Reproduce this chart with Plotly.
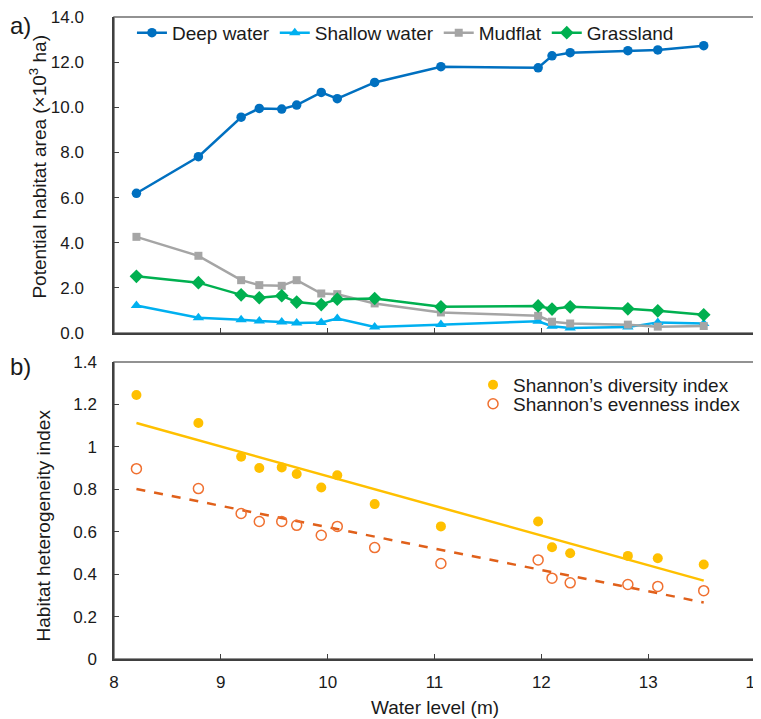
import numpy as np
import plotly.graph_objects as go

water_level = [8.21, 8.79, 9.19, 9.36, 9.57, 9.71, 9.94, 10.09, 10.44, 11.06, 11.97, 12.10, 12.27, 12.81, 13.09, 13.52]
deep_water = [6.19, 7.81, 9.56, 9.95, 9.92, 10.10, 10.66, 10.38, 11.10, 11.80, 11.75, 12.28, 12.42, 12.51, 12.54, 12.73]
shallow_water = [1.22, 0.68, 0.59, 0.53, 0.49, 0.44, 0.47, 0.64, 0.27, 0.38, 0.52, 0.30, 0.22, 0.26, 0.47, 0.42]
mudflat = [4.26, 3.42, 2.34, 2.12, 2.09, 2.34, 1.75, 1.72, 1.31, 0.91, 0.76, 0.50, 0.42, 0.37, 0.28, 0.31]
grassland = [2.51, 2.23, 1.69, 1.56, 1.65, 1.37, 1.26, 1.50, 1.53, 1.16, 1.20, 1.06, 1.16, 1.07, 0.98, 0.81]

diversity = [1.244, 1.112, 0.953, 0.900, 0.903, 0.872, 0.808, 0.866, 0.730, 0.625, 0.648, 0.527, 0.498, 0.486, 0.475, 0.445]
evenness = [0.897, 0.803, 0.686, 0.648, 0.648, 0.630, 0.583, 0.625, 0.525, 0.450, 0.467, 0.381, 0.359, 0.351, 0.342, 0.322]

top_ticks = [0, 2, 4, 6, 8, 10, 12, 14]
bottom_ticks = [0, 0.2, 0.4, 0.6, 0.8, 1.0, 1.2, 1.4]
x_ticks = [8, 9, 10, 11, 12, 13, 14]

FONT = "Liberation Sans, Arial, sans-serif"
AXC = "#404040"
TXT = "#1a1a1a"

fig = go.Figure()

series = [
    ("Deep water", deep_water, "#0070C0", "circle", 9.5),
    ("Shallow water", shallow_water, "#00B0F0", "triangle-up", 10),
    ("Mudflat", mudflat, "#A5A5A5", "square", 8),
    ("Grassland", grassland, "#00B050", "diamond", 10.5),
]
for name, vals, col, sym, sz in series:
    fig.add_trace(go.Scatter(x=water_level, y=vals, name=name, mode="lines+markers",
                             line=dict(color=col, width=2.5),
                             marker=dict(symbol=sym, size=sz, color=col),
                             xaxis="x", yaxis="y", legend="legend"))

wl = np.array(water_level)
xfit = np.array([wl.min(), wl.max()])
p1 = np.polyfit(wl, diversity, 1)
p2 = np.polyfit(wl, evenness, 1)

fig.add_trace(go.Scatter(x=xfit, y=np.polyval(p1, xfit), mode="lines",
                         line=dict(color="#FFC000", width=2.5), showlegend=False,
                         xaxis="x2", yaxis="y2"))
fig.add_trace(go.Scatter(x=xfit, y=np.polyval(p2, xfit), mode="lines",
                         line=dict(color="#E0601A", width=2.5, dash="dash"), showlegend=False,
                         xaxis="x2", yaxis="y2"))
fig.add_trace(go.Scatter(x=water_level, y=diversity, mode="markers", name="Shannon\u2019s diversity index",
                         marker=dict(symbol="circle", size=10, color="#FFC000"),
                         xaxis="x2", yaxis="y2", legend="legend2"))
fig.add_trace(go.Scatter(x=water_level, y=evenness, mode="markers", name="Shannon\u2019s evenness index",
                         marker=dict(symbol="circle-open", size=10, color="#F07030", line=dict(width=1.5)),
                         xaxis="x2", yaxis="y2", legend="legend3"))


def axis_common(standoff):
    return dict(showline=True, linecolor=AXC, linewidth=1.5, mirror=False, automargin=False,
                ticks="inside", ticklen=5, tickcolor=AXC, showgrid=False, zeroline=False,
                ticklabelstandoff=standoff, ticklabeloverflow="allow",
                tickfont=dict(size=17, color=TXT, family=FONT))


leg_common = dict(xref="paper", yref="paper", xanchor="left", yanchor="top",
                  font=dict(size=19, family=FONT, color=TXT), bgcolor="rgba(0,0,0,0)")

fig.update_layout(
    width=753, height=711,
    margin=dict(l=106, r=6, t=7, b=60),
    plot_bgcolor="white", paper_bgcolor="white",
    font=dict(family=FONT, color=TXT),
    xaxis=dict(domain=[0, 1], anchor="y", range=[8, 14], tickvals=x_ticks, showticklabels=False,
               **axis_common(0)),
    yaxis=dict(domain=[0.5078, 1], anchor="x", range=[0, 14], tickvals=top_ticks, tickformat=".1f",
               **axis_common(25)),
    xaxis2=dict(domain=[0, 1], anchor="y2", range=[8, 14], tickvals=x_ticks, **axis_common(7)),
    yaxis2=dict(domain=[0, 0.4627], anchor="x2", range=[0, 1.4], tickvals=bottom_ticks,
                **axis_common(12)),
    legend=dict(orientation="h", x=0.028, y=1.005, tracegroupgap=0, **leg_common),
    legend2=dict(orientation="v", x=0.5601, y=0.4565, **leg_common),
    legend3=dict(orientation="v", x=0.5601, y=0.4270, **leg_common),
    showlegend=True,
)

# frame boxes (gray)
for dom_y in ([0.5078, 1], [0, 0.4627]):
    fig.add_shape(type="rect", xref="paper", yref="paper", x0=0, x1=1, y0=dom_y[0], y1=dom_y[1],
                  line=dict(color="#6f6f6f", width=1.5), fillcolor="rgba(0,0,0,0)", layer="below")

fig.add_annotation(text="a)", xref="paper", yref="paper", x=-0.1654, y=0.986, xanchor="left", yanchor="middle",
                   showarrow=False, font=dict(size=24, family=FONT, color=TXT))
fig.add_annotation(text="b)", xref="paper", yref="paper", x=-0.1654, y=0.455, xanchor="left", yanchor="middle",
                   showarrow=False, font=dict(size=24, family=FONT, color=TXT))

# axis titles
fig.add_annotation(text="Potential habitat area (\u00d710<sup>3</sup> ha)", xref="paper", yref="paper",
                   x=-0.1186, y=0.767, textangle=-90, xanchor="center", yanchor="middle",
                   showarrow=False, font=dict(size=19, family=FONT, color=TXT))
fig.add_annotation(text="Habitat heterogeneity index", xref="paper", yref="paper",
                   x=-0.1108, y=0.208, textangle=-90, xanchor="center", yanchor="middle",
                   showarrow=False, font=dict(size=19, family=FONT, color=TXT))
fig.add_annotation(text="Water level (m)", xref="paper", yref="paper",
                   x=0.5008, y=-0.0761, xanchor="center", yanchor="middle",
                   showarrow=False, font=dict(size=19, family=FONT, color=TXT))

fig.write_html("out.html")
